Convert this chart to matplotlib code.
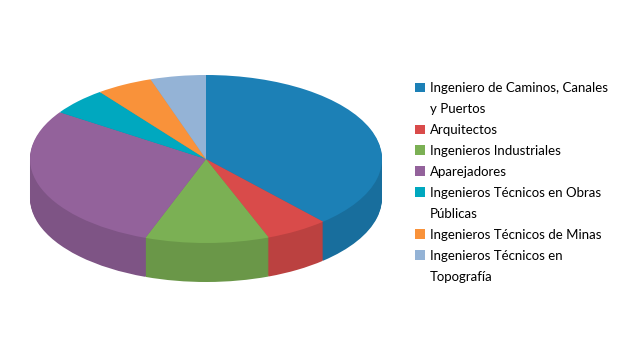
import matplotlib
matplotlib.use("Agg")
import matplotlib.pyplot as plt
from matplotlib.transforms import Affine2D
from matplotlib.colors import to_rgb
from matplotlib.patches import Patch

# data (percent of the pie)
labels = ["Ingeniero de Caminos, Canales\ny Puertos",
          "Arquitectos",
          "Ingenieros Industriales",
          "Aparejadores",
          "Ingenieros Técnicos en Obras\nPúblicas",
          "Ingenieros Técnicos de Minas",
          "Ingenieros Técnicos en\nTopografía"]
values = [38.4, 5.8, 11.4, 28.8, 5.3, 5.2, 5.1]
colors = ["#1c80b6", "#d94b4a", "#7bb054", "#93629b", "#00a8bf", "#f9923a", "#94b3d6"]

plt.rcParams["font.family"] = ["Lato", "DejaVu Sans"]

fig = plt.figure(figsize=(6.26, 3.6), dpi=100)
ax = fig.add_axes([0, 0, 1, 1])

# pie in unit coords, squeezed to an ellipse in pixel space
rx, ry, cx, cy = 176, 84, 206, 159
depth = 39
T = Affine2D().scale(rx, -ry).translate(cx, cy) + ax.transData

side_colors = [tuple(c * 0.86 for c in to_rgb(col)) for col in colors]

# side wall: stack of darker pies going downwards
for k in range(depth, 0, -1):
    ax.pie(values, colors=side_colors, startangle=90, counterclock=False,
           center=(0, -k / ry),
           wedgeprops=dict(transform=T, linewidth=0))

# top face
wedges, _ = ax.pie(values, colors=colors, startangle=90, counterclock=False,
                   wedgeprops=dict(transform=T, linewidth=0))

ax.set_aspect("auto")
ax.set_xlim(0, 626)
ax.set_ylim(360, 0)
ax.axis("off")

# one legend row per text line so the square sits on the first line
handles, rows = [], []
for w, lab in zip(wedges, labels):
    for i, line in enumerate(lab.split("\n")):
        handles.append(w if i == 0 else Patch(visible=False))
        rows.append(line)

leg = fig.legend(handles, rows, loc="upper left",
                 bbox_to_anchor=(415 / 626, 1 - 82 / 360),
                 frameon=False, fontsize=9.5,
                 handlelength=0.75, handleheight=0.75, handletextpad=0.4,
                 labelspacing=0.68, borderpad=0, borderaxespad=0)

fig.savefig("out.png", dpi=100)
